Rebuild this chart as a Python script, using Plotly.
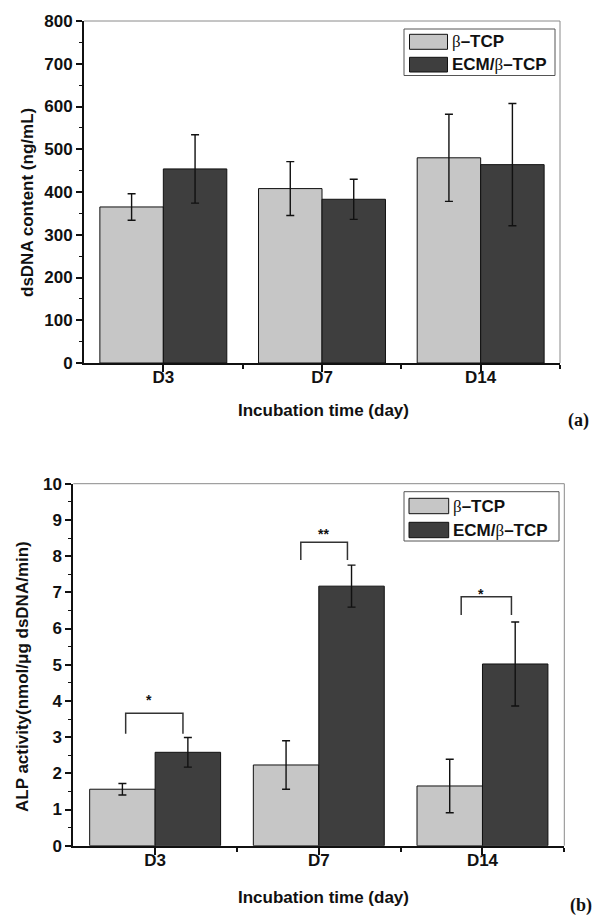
import plotly.graph_objects as go

# ---------------- data ----------------
categories = ["D3", "D7", "D14"]
series_names = ["β–TCP", "ECM/β–TCP"]

dna_tcp = [365, 408, 480]
dna_tcp_err = [31, 63, 102]
dna_ecm = [454, 383, 464]
dna_ecm_err = [80, 47, 143]

alp_tcp = [1.56, 2.23, 1.65]
alp_tcp_err = [0.16, 0.67, 0.74]
alp_ecm = [2.58, 7.17, 5.02]
alp_ecm_err = [0.41, 0.58, 1.16]

sig_labels = ["*", "**", "*"]
sig_left = [-0.18, -0.11, -0.13]
sig_right = [0.17, 0.175, 0.177]
sig_top = [3.66, 8.38, 6.88]
sig_bottom = [3.09, 7.89, 6.37]
sig_star_x = [-0.04, 0.03, -0.01]
sig_star_y = [4.12, 8.70, 7.04]

# ---------------- styling ----------------
W, H = 602, 923
LIGHT = "#c6c6c6"
DARK = "#3e3e3e"
FONT = "Liberation Sans"
xpos = list(range(len(categories)))


def px(x):
    return x / W


def py(y):
    return 1 - y / H


fig = go.Figure()

def add_bars(xa, ya, vals, errs, color, name):
    fig.add_trace(go.Bar(
        x=xpos, y=vals, name=name, xaxis=xa, yaxis=ya,
        marker=dict(color=color, line=dict(color="#111", width=1)),
        error_y=dict(type="data", array=errs, visible=True, color="#111",
                     thickness=1.4, width=4),
        showlegend=False,
    ))

add_bars("x", "y", dna_tcp, dna_tcp_err, LIGHT, series_names[0])
add_bars("x", "y", dna_ecm, dna_ecm_err, DARK, series_names[1])
add_bars("x2", "y2", alp_tcp, alp_tcp_err, LIGHT, series_names[0])
add_bars("x2", "y2", alp_ecm, alp_ecm_err, DARK, series_names[1])

tickfont = dict(family=FONT, size=17, color="#111", weight="bold")

def xaxis_cfg(domain, anchor):
    return dict(
        domain=domain, anchor=anchor, range=[-0.5, 2.5],
        tickvals=xpos, ticktext=categories, ticks="outside", ticklen=7,
        tickwidth=1.5, tickcolor="#111", showline=True, linecolor="#111",
        linewidth=2, showgrid=False, zeroline=False, tickfont=tickfont,
        automargin=False, ticklabelstandoff=-9,
        minor=dict(tickvals=[0.5, 1.5, 2.5], ticks="outside", ticklen=4,
                   tickwidth=1.5, tickcolor="#111"),
    )

def yaxis_cfg(domain, anchor, rng, dtick):
    return dict(
        domain=domain, anchor=anchor, range=rng, dtick=dtick,
        ticks="outside", ticklen=6, tickwidth=1.5, tickcolor="#111",
        showline=True, linecolor="#111", linewidth=2, showgrid=False,
        zeroline=False, tickfont=tickfont, automargin=False,
        minor=dict(dtick=dtick / 2, ticks="outside", ticklen=3,
                   tickwidth=1.2, tickcolor="#111"),
    )

fig.update_layout(
    width=W, height=H,
    margin=dict(l=0, r=0, t=0, b=0),
    paper_bgcolor="white", plot_bgcolor="white",
    barmode="group", bargap=0.2, bargroupgap=0,
    xaxis=xaxis_cfg([px(84), px(560)], "y"),
    yaxis=yaxis_cfg([py(363), py(21)], "x", [0, 800], 100),
    xaxis2=xaxis_cfg([px(73.3), px(564.3)], "y2"),
    yaxis2=yaxis_cfg([py(845.7), py(483.7)], "x2", [0, 10], 1),
    font=dict(family=FONT, color="#111"),
)

shapes = []
annotations = []

# top / right thin frame lines
for xr, yr in (("x", "y"), ("x2", "y2")):
    shapes.append(dict(type="line", xref=f"{xr} domain", yref=f"{yr} domain",
                       x0=0, x1=1, y0=1, y1=1, line=dict(color="#8a8a8a", width=1)))
    shapes.append(dict(type="line", xref=f"{xr} domain", yref=f"{yr} domain",
                       x0=1, x1=1, y0=0, y1=1, line=dict(color="#8a8a8a", width=1)))

# significance brackets (bottom panel)
for i, lab in enumerate(sig_labels):
    x0 = xpos[i] + sig_left[i]
    x1 = xpos[i] + sig_right[i]
    shapes.append(dict(
        type="path", xref="x2", yref="y2",
        path=f"M {x0},{sig_bottom[i]} L {x0},{sig_top[i]} L {x1},{sig_top[i]} L {x1},{sig_bottom[i]}",
        line=dict(color="#333", width=1.5),
    ))
    annotations.append(dict(
        x=xpos[i] + sig_star_x[i], y=sig_star_y[i], xref="x2", yref="y2",
        text=lab, showarrow=False, xanchor="center", yanchor="middle", yshift=-3,
        font=dict(family=FONT, size=14, color="#111", weight="bold"),
    ))

# custom legends
def legend_box(box, sw_x, rows, text_x):
    l, t, r, b = box
    shapes.append(dict(type="rect", xref="paper", yref="paper",
                       x0=px(l), x1=px(r), y0=py(b), y1=py(t),
                       line=dict(color="#555", width=1), fillcolor="white"))
    for (y0, y1), col, name in zip(rows, (LIGHT, DARK), series_names):
        shapes.append(dict(type="rect", xref="paper", yref="paper",
                           x0=px(sw_x[0]), x1=px(sw_x[1]), y0=py(y1), y1=py(y0),
                           line=dict(color="#111", width=1), fillcolor=col))
        label = name.replace("β", "<span style='font-family:Liberation Serif;font-weight:normal'>β</span>")
        annotations.append(dict(
            x=px(text_x), y=py((y0 + y1) / 2), xref="paper", yref="paper",
            text=label, showarrow=False, xanchor="left", yanchor="middle",
            font=dict(family=FONT, size=17, color="#111", weight="bold"),
        ))

legend_box((404, 29, 555, 75.5), (409.5, 447.5), [(34.3, 49.3), (57.3, 72)], 450)
legend_box((404, 491.7, 559, 541), (409, 448.7), [(498.3, 513.7), (522.3, 537.7)], 450.5)

# axis titles
title_font = dict(family=FONT, size=17, color="#111", weight="bold")
common = dict(xref="paper", yref="paper", showarrow=False, xanchor="center", yanchor="middle")
annotations += [
    dict(x=px(27), y=py(203), text="dsDNA content (ng/mL)", textangle=-90,
         font=title_font, **common),
    dict(x=px(323), y=py(410), text="Incubation time (day)", font=title_font, **common),
    dict(x=px(22), y=py(677), text="ALP activity(nmol/μg dsDNA/min)", textangle=-90,
         font=title_font, **common),
    dict(x=px(323), y=py(897), text="Incubation time (day)", font=title_font, **common),
]
label_font = dict(family="Liberation Serif", size=18, color="#111", weight="bold")
annotations += [
    dict(x=px(578), y=py(420), text="(a)", font=label_font, **common),
    dict(x=px(581), y=py(905), text="(b)", font=label_font, **common),
]

fig.update_layout(shapes=shapes, annotations=annotations)
fig.write_html(
    "out.html",
    config={"displayModeBar": False},
    post_script="document.body.style.margin='0';document.body.style.overflow='hidden';",
)
